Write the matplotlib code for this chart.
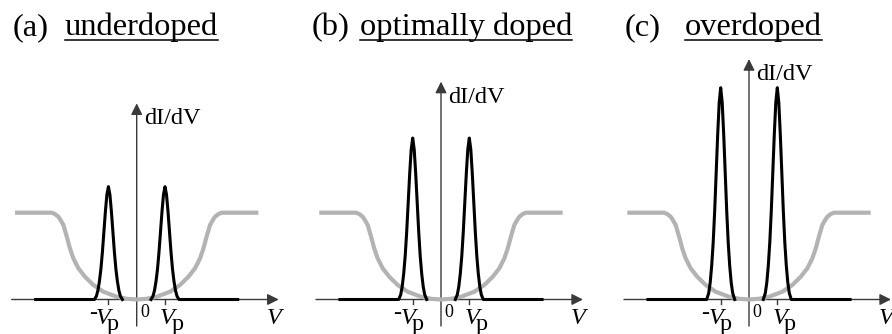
import numpy as np
import matplotlib
matplotlib.use("Agg")
import matplotlib.pyplot as plt
from matplotlib.lines import Line2D

plt.rcParams['font.family'] = ['Liberation Serif', 'DejaVu Serif']

# --- data (V in units of Vp, height in units of the normal-state plateau)
tags = ['(a)', '(b)', '(c)']
names = ['underdoped', 'optimally doped', 'overdoped']
peak_height = [1.30, 1.86, 2.44]
yaxis_top = [2.26, 2.51, 2.77]
vp = 1.0
tail_end = 3.57

# shape of one coherence peak (offset from peak centre, fraction of peak height)
peak_dv = [-0.495, -0.424, -0.371, -0.318, -0.265, -0.212, -0.159, -0.106, -0.053, 0.0,
           0.053, 0.106, 0.159, 0.212, 0.265, 0.318, 0.371, 0.424, 0.495]
peak_shape = [0.0, 0.03, 0.08, 0.16, 0.27, 0.42, 0.60, 0.78, 0.93, 1.0,
              0.93, 0.78, 0.60, 0.42, 0.27, 0.16, 0.08, 0.03, 0.0]

# grey normal-state curve, left half (mirrored for the right half)
gray_v_half = [-4.30, -3.00, -2.89, -2.77, -2.69, -2.59, -2.47, -2.36, -2.24,
               -2.06, -1.83, -1.53, -1.18, -0.71, -0.35, 0.0]
gray_h_half = [1.0, 1.0, 0.985, 0.954, 0.915, 0.858, 0.724, 0.590, 0.475,
               0.359, 0.263, 0.167, 0.090, 0.032, 0.008, 0.0]

gray_v = np.concatenate([gray_v_half, -np.array(gray_v_half[::-1][1:])])
gray_h = np.concatenate([gray_h_half, gray_h_half[::-1][1:]])
peak_dv = np.array(peak_dv)
peak_shape = np.array(peak_shape)

# --- layout (pixels)
W, H = 892, 334
XU, YU = 28.3, 86.8          # pixels per unit
AXIS_Y = 299.5
panels = [(0, 300, 136.7), (300, 600, 441.0), (600, 892, 749.0)]
title_x = [(13, 65), (312, 360), (625, 685)]

axis_col = '#3a3a3a'
gray_col = '#b3b3b3'
lab_fs = 17.5

fig = plt.figure(figsize=(W / 100, H / 100), dpi=100)


def px(dx):
    return dx / XU


def py(y):
    return (AXIS_Y - y) / YU


for i, (l, r, c) in enumerate(panels):
    ax = fig.add_axes([l / W, 0, (r - l) / W, 1])
    ax.set_xlim((l - c) / XU, (r - c) / XU)
    ax.set_ylim(-(H - AXIS_Y) / YU, AXIS_Y / YU)
    ax.axis('off')

    # axes with arrows
    ax.annotate('', xy=(px(142), 0), xytext=(px(-125), 0),
                arrowprops=dict(arrowstyle='-|>', lw=1.0, color=axis_col,
                                mutation_scale=17, shrinkA=0, shrinkB=0))
    ax.annotate('', xy=(0, yaxis_top[i]), xytext=(0, py(326)),
                arrowprops=dict(arrowstyle='-|>', lw=1.0, color=axis_col,
                                mutation_scale=17, shrinkA=0, shrinkB=0))
    for s in (-vp, vp):
        ax.plot([s, s], [0, -0.05], color=axis_col, lw=1.0)

    # grey curve
    ax.plot(gray_v, gray_h, color=gray_col, lw=3.0, solid_capstyle='butt', zorder=3)

    # black coherence peaks
    hp = peak_height[i]
    lv = np.concatenate([[-tail_end], -vp + peak_dv])
    lh = np.concatenate([[0.0], hp * peak_shape])
    rv = np.concatenate([vp + peak_dv, [tail_end]])
    rh = np.concatenate([hp * peak_shape, [0.0]])
    ax.plot(lv, lh, color='black', lw=2.2, zorder=4)
    ax.plot(rv, rh, color='black', lw=2.2, zorder=4)

    # labels
    ax.text(px(7), yaxis_top[i] - 5 / YU, 'dI/dV', fontsize=lab_fs, ha='left', va='top')
    ax.text(px(-40), py(319), '-', fontsize=lab_fs, ha='right', va='baseline')
    ax.text(px(-40.7), py(324.5), 'V', fontsize=lab_fs, style='italic', ha='left', va='baseline')
    ax.text(px(-29.7), py(330), 'p', fontsize=lab_fs, ha='left', va='baseline')
    ax.text(px(23.3), py(324.5), 'V', fontsize=lab_fs, style='italic', ha='left', va='baseline')
    ax.text(px(35), py(330), 'p', fontsize=lab_fs, ha='left', va='baseline')
    ax.text(px(3.3), py(317), '0', fontsize=13, ha='left', va='baseline')
    ax.text(px(130), py(324.5), 'V', fontsize=lab_fs, style='italic', ha='left', va='baseline')

# titles with underlined doping level
words = []
for i in range(3):
    fig.text(title_x[i][0] / W, 1 - 35 / H, tags[i], fontsize=23.4, va='baseline')
    words.append(fig.text(title_x[i][1] / W, 1 - 35 / H, names[i], fontsize=23.4, va='baseline'))

fig.canvas.draw()
rend = fig.canvas.get_renderer()
for t in words:
    bb = t.get_window_extent(rend)
    yl = (H - 40) / H
    fig.add_artist(Line2D([bb.x0 / W, bb.x1 / W], [yl, yl], color='black', lw=1.1,
                          transform=fig.transFigure))

fig.savefig('out.png', dpi=100)
